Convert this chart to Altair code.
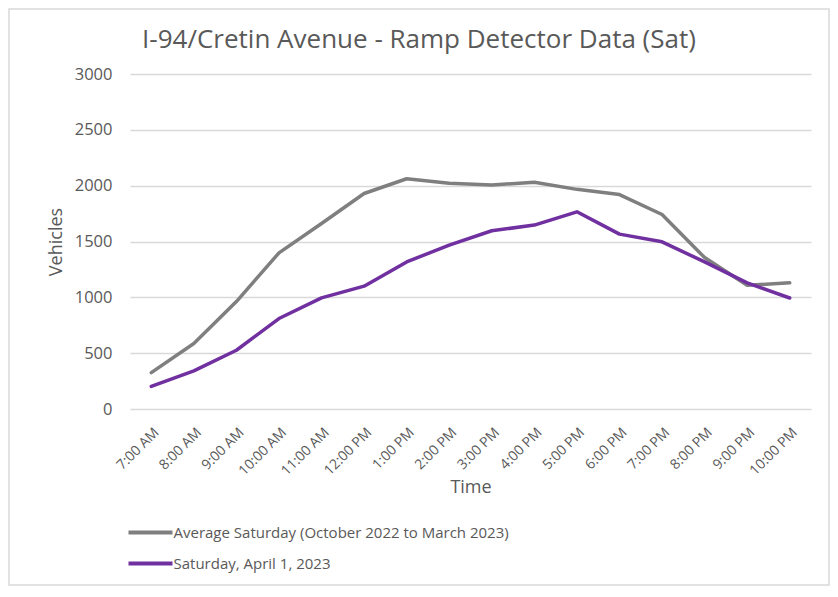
import altair as alt
import pandas as pd

times = ["7:00 AM", "8:00 AM", "9:00 AM", "10:00 AM", "11:00 AM", "12:00 PM",
         "1:00 PM", "2:00 PM", "3:00 PM", "4:00 PM", "5:00 PM", "6:00 PM",
         "7:00 PM", "8:00 PM", "9:00 PM", "10:00 PM"]
avg_saturday = [326, 586, 962, 1398, 1661, 1930, 2062, 2021, 2006, 2030,
                1967, 1920, 1742, 1356, 1108, 1130]
april_1 = [203, 341, 526, 810, 995, 1100, 1317, 1468, 1596, 1647,
           1766, 1566, 1497, 1317, 1129, 994]
series_names = ["Average Saturday (October 2022 to March 2023)", "Saturday, April 1, 2023"]
series_colors = ["#7f7f7f", "#7030a0"]
title_text = "I-94/Cretin Avenue - Ramp Detector Data (Sat)"

rows = []
for i, t in enumerate(times):
    rows.append({"Time": t, "Series": series_names[0], "Vehicles": avg_saturday[i], "order": i})
    rows.append({"Time": t, "Series": series_names[1], "Vehicles": april_1[i], "order": i})
df = pd.DataFrame(rows)

FONT = "Open Sans"
TXT = "#595959"

lines = alt.Chart(df).mark_line(strokeWidth=3.5, strokeCap="round", strokeJoin="round").encode(
    x=alt.X("Time:N", sort=times, scale=alt.Scale(type="point", padding=0.5),
            axis=alt.Axis(title="Time", labelAngle=-45, labelFontSize=14, labelColor=TXT,
                          labelFont=FONT, titleFont=FONT, titleFontSize=18, titleColor=TXT,
                          titleFontWeight="normal", domain=False, ticks=False,
                          labelPadding=16, titlePadding=1, grid=False)),
    y=alt.Y("Vehicles:Q", scale=alt.Scale(domain=[0, 3000]),
            axis=alt.Axis(title="Vehicles", values=[0, 500, 1000, 1500, 2000, 2500, 3000],
                          format="d",
                          labelFontSize=16.5, labelColor=TXT, labelFont=FONT,
                          titleFont=FONT, titleFontSize=18, titleColor=TXT,
                          titleFontWeight="normal", domain=False, ticks=False,
                          labelPadding=18, titlePadding=9,
                          grid=True, gridColor="#d9d9d9", gridWidth=1.3)),
    color=alt.Color("Series:N", sort=series_names,
                    scale=alt.Scale(domain=series_names, range=series_colors),
                    legend=alt.Legend(title=None, orient="none", legendX=3, legendY=441,
                                      symbolType="M-1.42,0H1.42", symbolSize=961,
                                      symbolStrokeWidth=4,
                                      labelFontSize=15, labelFont=FONT, labelColor=TXT,
                                      labelLimit=0, rowPadding=5, padding=0,
                                      labelOffset=5.5, symbolOffset=0)),
    order="order:Q",
)

border = alt.Chart(pd.DataFrame({"a": [0]})).mark_rect(
    filled=False, stroke="#d9d9d9", strokeWidth=1.5
).encode(x=alt.value(-121), x2=alt.value(699), y=alt.value(-65), y2=alt.value(511))

title = alt.Chart(pd.DataFrame({"t": [title_text]})).mark_text(
    fontSize=26, font=FONT, color=TXT, align="center", baseline="middle"
).encode(text="t:N", x=alt.value(289), y=alt.value(-34))

chart = alt.layer(border, title, lines).properties(
    width=681, height=335,
    autosize=alt.AutoSizeParams(type="none"),
    padding={"left": 122, "top": 66, "right": 19, "bottom": 179},
).configure_view(stroke=None)

chart.save("out.html", embed_options={"renderer": "svg", "actions": False})
